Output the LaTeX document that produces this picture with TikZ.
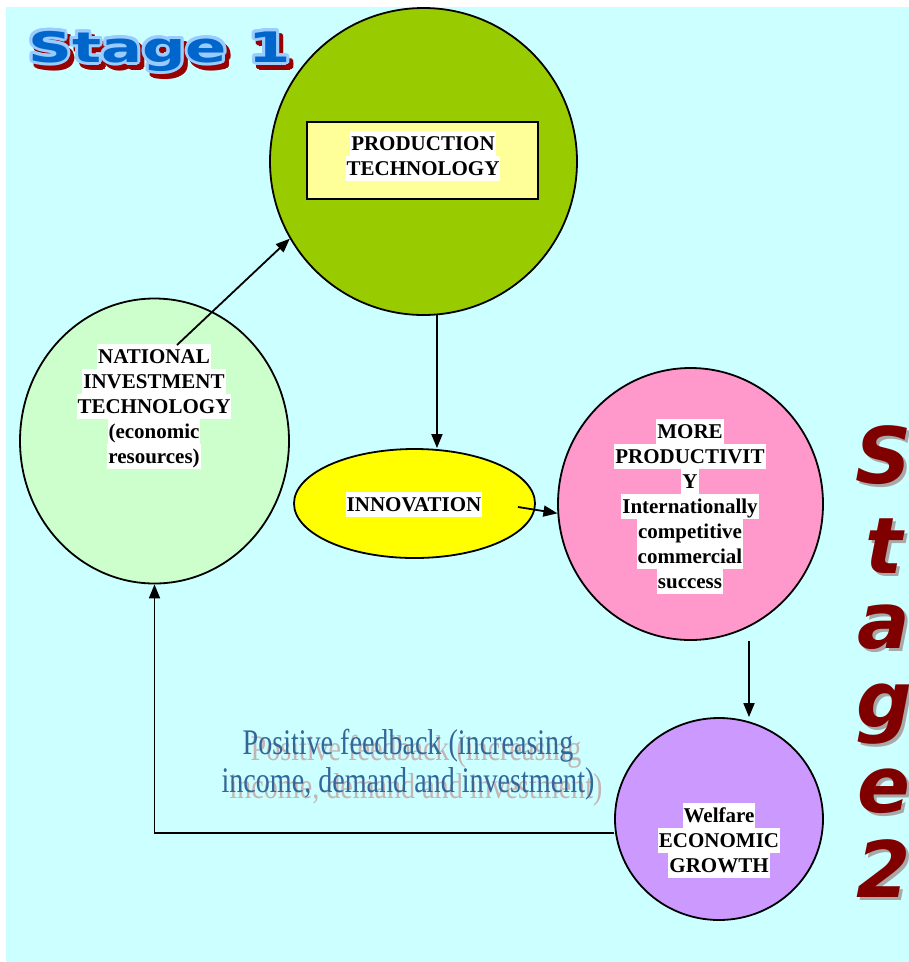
\documentclass[tikz,border=0pt]{standalone}
\usepackage{fontspec}
\setmainfont{Liberation Serif}
\newfontfamily\stagefont{DejaVu Sans}
\usetikzlibrary{shapes.geometric,arrows.meta,calc}
\definecolor{bgcyan}{HTML}{CCFFFF}
\definecolor{prodgreen}{HTML}{99CC00}
\definecolor{rectyellow}{HTML}{FFFF99}
\definecolor{natgreen}{HTML}{CCFFCC}
\definecolor{innyellow}{HTML}{FFFF00}
\definecolor{morepink}{HTML}{FF99CC}
\definecolor{welpurple}{HTML}{CC99FF}
\definecolor{fbblue}{HTML}{336699}
\definecolor{fbshadow}{HTML}{C4B4B4}
\definecolor{stblue}{HTML}{0066CC}
\definecolor{stlight}{HTML}{99CCFF}
\definecolor{stred}{HTML}{990000}
\definecolor{sttwo}{HTML}{800000}
\definecolor{sttwoshadow}{HTML}{A8A8A8}
\newcommand\hl[1]{{\setlength\fboxsep{0pt}\colorbox{white}{\rule[-6pt]{0pt}{25pt}\kern1pt#1\kern1pt}}}
\newcommand\stageonetext{\scalebox{1.45}[1]{Stage 1}}
\newcommand\fbtext{\scalebox{0.78}[1]{\begin{tabular}{@{}c@{}}Positive feedback (increasing\\ income, demand and investment)\end{tabular}}}
\begin{document}
\begin{tikzpicture}[x=1pt,y=-1pt,
  blob/.style={draw=black, line width=1.8pt, ellipse, inner sep=0pt},
  lbl/.style={font=\fontsize{21}{25}\selectfont\bfseries, align=center, inner sep=0pt},
  arr/.style={line width=1.8pt, -{Triangle[length=14pt,width=11pt]}},
  st1/.style={font=\stagefont\bfseries\fontsize{42}{44}\selectfont, inner sep=0pt, anchor=base west},
  st2/.style={font=\stagefont\bfseries\itshape\fontsize{78}{80}\selectfont, inner sep=0pt, anchor=base},
  fb/.style={font=\fontsize{36}{38}\selectfont, inner sep=0pt}
]
\useasboundingbox (0,0) rectangle (909,962);
\fill[bgcyan] (6,7) rectangle (909,962);

% shapes
\node[blob, fill=prodgreen, minimum width=307pt, minimum height=307pt] (prod) at (423.5,161.5) {};
\node[draw=black, line width=1.8pt, fill=rectyellow, minimum width=231pt, minimum height=77pt, inner sep=0pt] (ptbox) at (422.5,160.5) {};
\node[blob, fill=natgreen, minimum width=269pt, minimum height=285pt] (natl) at (154.5,441) {};
\node[blob, fill=innyellow, minimum width=241pt, minimum height=109pt] (innov) at (414.5,503.5) {};
\node[blob, fill=morepink, minimum width=265pt, minimum height=272pt] (more) at (690.5,504) {};
\node[blob, fill=welpurple, minimum width=208pt, minimum height=202pt] (welfare) at (719,819) {};

% labels
\node[lbl] (ptlbl) at (423,156) {\hl{PRODUCTION}\\\hl{TECHNOLOGY}};
\node[lbl] (natlbl) at (154,406.5) {\hl{NATIONAL}\\\hl{INVESTMENT}\\\hl{TECHNOLOGY}\\\hl{(economic}\\\hl{resources)}};
\node[lbl] (innlbl) at (414,504.5) {\hl{INNOVATION}};
\node[lbl] (morelbl) at (690,506.5) {\hl{MORE}\\\hl{PRODUCTIVIT}\\\hl{Y}\\\hl{Internationally}\\\hl{competitive}\\\hl{commercial}\\\hl{success}};
\node[lbl] (wellbl) at (719,840.5) {\hl{Welfare}\\\hl{ECONOMIC}\\\hl{GROWTH}};

% connectors
\coordinate (natstart) at (177,345);
\coordinate (innstart) at (518,507);
\coordinate (morestart) at (749,641);
\draw[arr] (natstart) -- (prod.210);
\draw[arr] (prod.275) -- (prod.275 |- innov.north);
\draw[arr] (innstart) -- (more.184);
\draw[arr] (morestart) -- (morestart |- welfare.north);
\draw[arr] ($(welfare.west)+(0,14)$) -| (natl.south);

% feedback text
\node[fb, text=fbshadow] (fbs) at (416,772) {\fbtext};
\node[fb, text=fbblue] (fbm) at (408,766) {\fbtext};

% Stage 1
\coordinate (st1pos) at (28,62);
\foreach \a [count=\i] in {0,22.5,...,337.5} {
  \node[st1, text=stred] (st1r\i) at ($(st1pos)+(4,5)+(\a:3)$) {\stageonetext};
}
\foreach \a [count=\i] in {0,22.5,...,337.5} {
  \node[st1, text=stlight] (st1l\i) at ($(st1pos)+(\a:3)$) {\stageonetext};
}
\node[st1, text=stblue] (st1) at (st1pos) {\stageonetext};

% Stage 2 (vertical)
\foreach \ch/\yy [count=\i] in {S/483, t/573, a/648, g/727, e/812, 2/897} {
  \node[st2, text=sttwoshadow] (st2s\i) at (887,\yy+3) {\ch};
  \node[st2, text=sttwo] (st2m\i) at (884,\yy) {\ch};
}
\end{tikzpicture}
\end{document}
